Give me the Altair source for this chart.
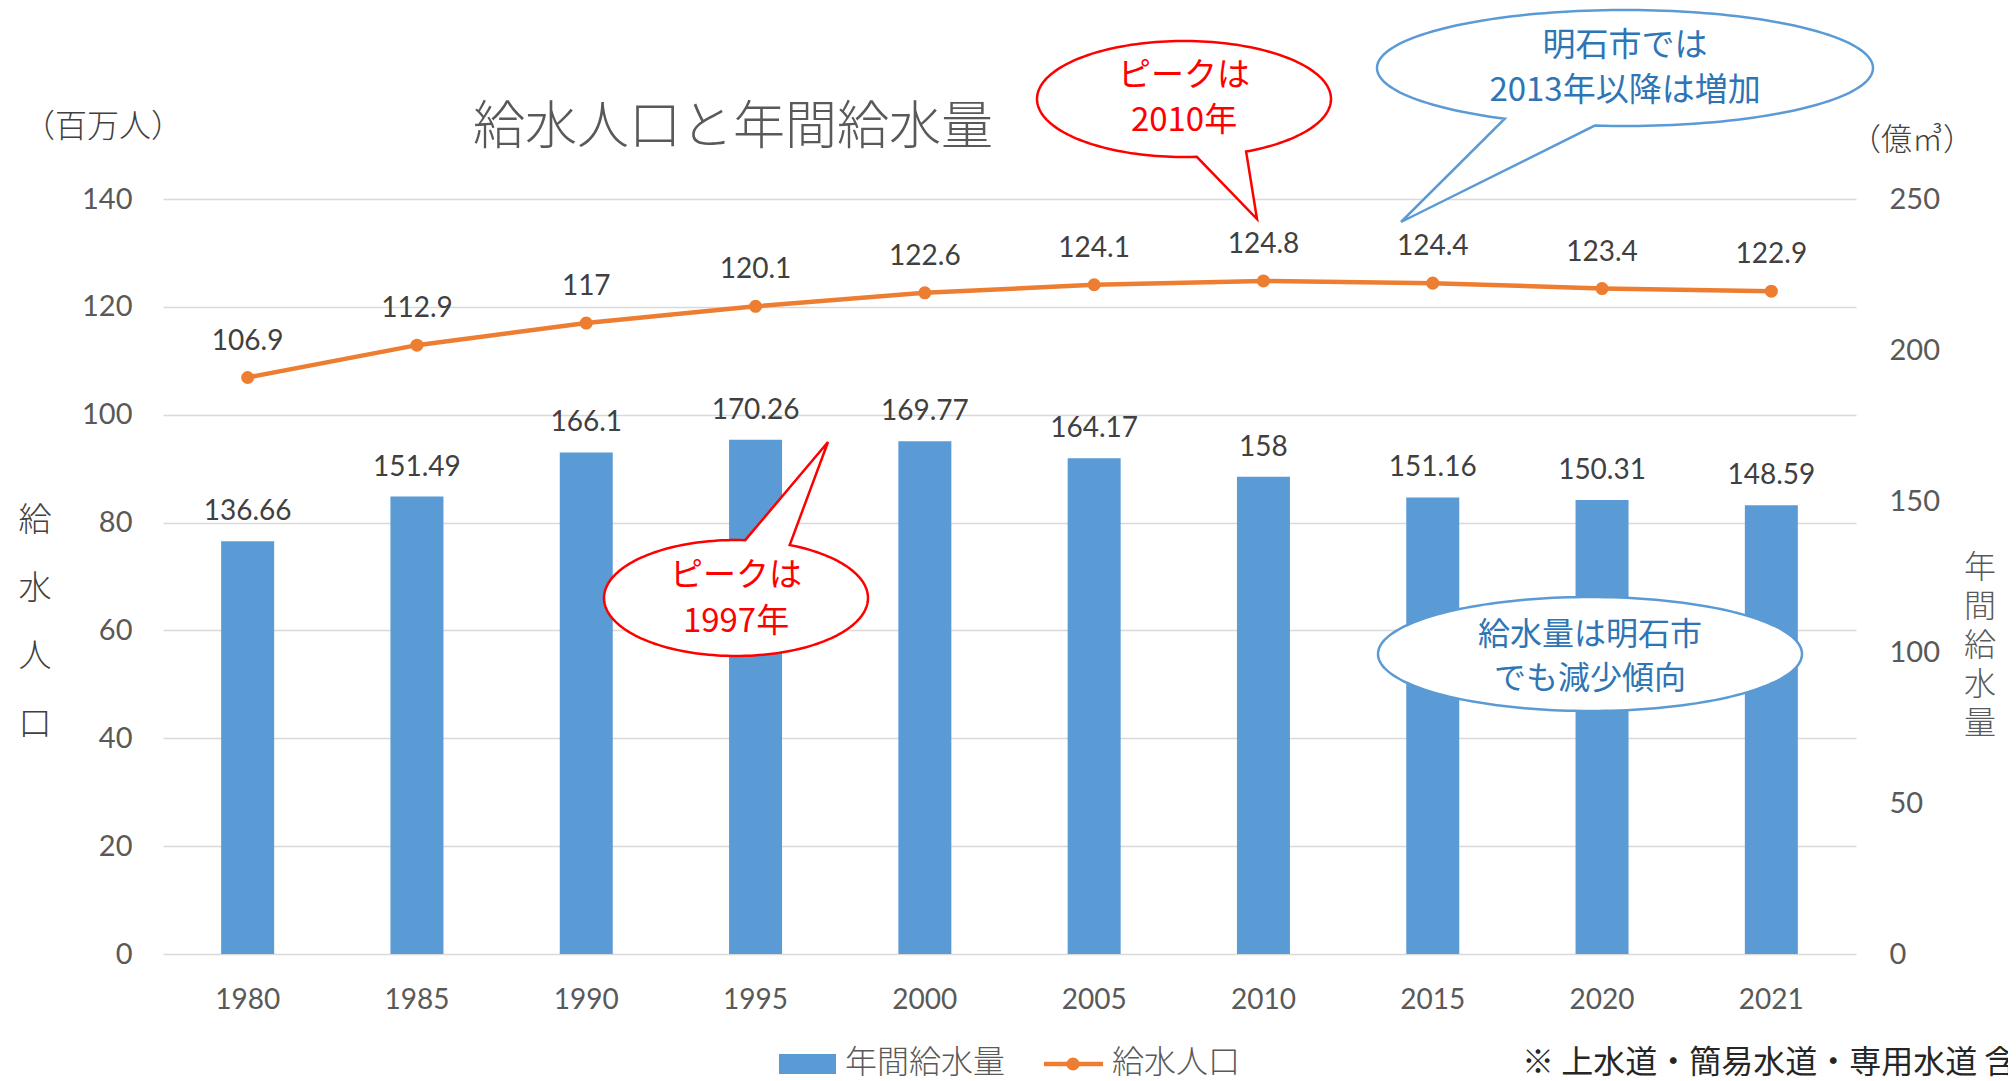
import math
import altair as alt
import pandas as pd

# ---------------- data ----------------
years = ["1980", "1985", "1990", "1995", "2000", "2005", "2010", "2015", "2020", "2021"]
supply_volume = [136.66, 151.49, 166.1, 170.26, 169.77, 164.17, 158, 151.16, 150.31, 148.59]  # 億㎥
population = [106.9, 112.9, 117, 120.1, 122.6, 124.1, 124.8, 124.4, 123.4, 122.9]  # 百万人
left_ticks = [0, 20, 40, 60, 80, 100, 120, 140]
right_ticks = [0, 50, 100, 150, 200, 250]

df = pd.DataFrame({
    "year": years,
    "vol": supply_volume,
    "pop": population,
    "vol_label": [f"{v:g}" for v in supply_volume],
    "pop_label": [f"{v:g}" for v in population],
})
one = pd.DataFrame({"k": [0]})

# ---------------- layout ----------------
W, H = 1693, 755
PAD = {"left": 155, "top": 191, "right": 152, "bottom": 127}
OX, OY = 163, 199  # plot origin on the page


def px(X):
    return X - OX


def py(Y):
    return Y - OY


JP = "Noto Sans CJK JP, Noto Sans JP, Noto Sans, sans-serif"
NUM = "Lato"
BLUE = "#5B9BD5"
ORANGE = "#ED7D31"
RED = "#FF0000"
TBLUE = "#2E75B6"
GREY = "#595959"

# ---------------- main chart ----------------
x_enc = alt.X(
    "year:N", sort=years,
    scale=alt.Scale(paddingInner=0, paddingOuter=0),
    axis=alt.Axis(title=None, labelAngle=0, domain=False, ticks=False, labelPadding=32,
                  labelFont=NUM, labelFontSize=28, labelColor=GREY),
)
right_axis = alt.Axis(orient="right", values=right_ticks, title=None, grid=False, domain=False,
                      ticks=False, labelPadding=33, labelFont=NUM, labelFontSize=29,
                      labelColor=GREY)
left_axis = alt.Axis(orient="left", values=left_ticks, title=None, grid=True, gridColor="#D9D9D9",
                     gridWidth=1.5, domain=False, ticks=False, labelPadding=31, labelFont=NUM,
                     labelFontSize=29, labelColor=GREY)
y_vol = alt.Y("vol:Q", scale=alt.Scale(domain=[0, 250], nice=False, zero=True), axis=right_axis)
y_pop = alt.Y("pop:Q", scale=alt.Scale(domain=[0, 140], nice=False, zero=True), axis=left_axis)

base = alt.Chart(df)
bars = base.mark_bar(size=53, color=BLUE).encode(x=x_enc, y=y_vol)
bar_text = base.mark_text(dy=-29, font=NUM, fontSize=28, color="#404040", baseline="middle").encode(
    x=x_enc, y=y_vol, text="vol_label:N")
bar_layer = alt.layer(bars, bar_text)

line = base.mark_line(color=ORANGE, strokeWidth=4.5,
                      point=alt.OverlayMarkDef(filled=True, size=170, color=ORANGE, opacity=1)).encode(
    x=x_enc, y=y_pop)
line_text = base.mark_text(dy=-36, font=NUM, fontSize=28, color="#404040", baseline="middle").encode(
    x=x_enc, y=y_pop, text="pop_label:N")
line_layer = alt.layer(line, line_text)


# ---------------- decorations ----------------
def text_at(txt, X, Y, size, color="#404040", align="center", font=JP, line_h=None, weight="normal"):
    """Y is the vertical centre of the whole text block."""
    kw = dict(text=txt, font=font, fontSize=size, color=color, align=align, baseline="middle",
              fontWeight=weight)
    n = txt.count("\n") + 1
    if n > 1:
        kw["lineBreak"] = "\n"
        kw["lineHeight"] = line_h
        Y = Y - (n - 1) * line_h / 2
    return alt.Chart(one).mark_text(**kw).encode(x=alt.value(px(X)), y=alt.value(py(Y)))


def callout(cx, cy, rx, ry, color, tail=None):
    # tail = (angle_lo, angle_hi, tip_x, tip_y) in page coords (angles clockwise, degrees)
    if tail:
        a_lo, a_hi, tx, ty = tail
        start, end = a_hi, a_lo + 360
    else:
        start, end = 0, 360
    n = int((end - start) / 2)
    pts = []
    for i in range(n + 1):
        a = math.radians(start + (end - start) * i / n)
        pts.append((rx * math.cos(a), ry * math.sin(a)))
    if tail:
        pts.append((tx - cx, ty - cy))
    d = "M" + " L".join(f"{x:.2f},{y:.2f}" for x, y in pts) + " Z"
    return alt.Chart(one).mark_point(shape=d, size=4, filled=True, fill="white", stroke=color,
                                     strokeWidth=2.5, opacity=1, strokeJoin="miter").encode(
        x=alt.value(px(cx)), y=alt.value(py(cy)))


decor = [
    text_at("給水人口と年間給水量", 733, 128, 52, color=GREY, weight=300),
    text_at("（百万人）", 103, 127, 32, color="#404040", weight=300),
    text_at("（億㎥）", 1912, 141, 31, color="#404040", weight=300),
    text_at("給\n水\n人\n口", 35, 623, 33, color="#404040", line_h=68, weight=300),
    text_at("年\n間\n給\n水\n量", 1980, 646, 32, color=GREY, line_h=39, weight=300),
    # legend
    alt.Chart(one).mark_rect(color=BLUE).encode(
        x=alt.value(px(779)), x2=alt.value(px(836)), y=alt.value(py(1054)), y2=alt.value(py(1074))),
    text_at("年間給水量", 845, 1063, 32, color=GREY, align="left", weight=300),
    alt.Chart(one).mark_rule(color=ORANGE, strokeWidth=4.5).encode(
        x=alt.value(px(1044)), x2=alt.value(px(1103)), y=alt.value(py(1064))),
    alt.Chart(one).mark_point(filled=True, size=170, color=ORANGE, opacity=1).encode(
        x=alt.value(px(1073)), y=alt.value(py(1064))),
    text_at("給水人口", 1112, 1063, 32, color=GREY, align="left", weight=300),
    text_at("※ 上水道・簡易水道・専用水道 含む", 1522, 1063, 32, color="#262626", align="left"),
    # callouts
    callout(1184, 99, 147, 58, RED, tail=(65, 85, 1257, 219)),
    text_at("ピークは\n2010年", 1184, 98, 33, color=RED, line_h=45),
    callout(736, 598, 132, 58, RED, tail=(-86, -66, 828, 442)),
    text_at("ピークは\n1997年", 736, 599, 33, color=RED, line_h=46),
    callout(1625, 68, 248, 58, BLUE, tail=(97, 119, 1401, 222)),
    text_at("明石市では\n2013年以降は増加", 1625, 68, 33, color=TBLUE, line_h=45),
    callout(1590, 654, 212, 57, BLUE),
    text_at("給水量は明石市\nでも減少傾向", 1590, 657, 32, color=TBLUE, line_h=44),
]

chart = (
    alt.layer(bar_layer, line_layer, *decor)
    .resolve_scale(y="independent")
    .properties(width=W, height=H, padding=PAD, autosize=alt.AutoSizeParams(type="none"),
                background="white")
    .configure_view(stroke=None)
)

chart.save("out.html", embed_options={"renderer": "svg", "actions": False})
